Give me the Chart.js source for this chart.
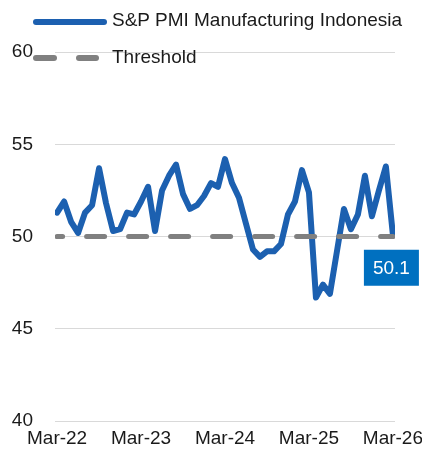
<!DOCTYPE html>
<html>
<head>
<meta charset="utf-8">
<script src="https://cdn.jsdelivr.net/npm/chart.js@4/dist/chart.umd.min.js"></script>
<style>
  html, body { margin: 0; padding: 0; background: #fff; }
  #wrap { position: relative; width: 422px; height: 462px; }
  #c { position: absolute; left: 0; top: 0; }
  .leg { position: absolute; font-family: "Liberation Sans", Arial, sans-serif; font-size: 19px; color: #1a1a1a; white-space: nowrap; line-height: 22px; }
  .sw { position: absolute; height: 6px; border-radius: 3px; }
</style>
</head>
<body>
<div id="wrap">
  <canvas id="c" width="422" height="462"></canvas>
  <div class="sw" style="left:33px; top:19px; width:74px; background:#1c60b0;"></div>
  <div class="leg" style="left:112px; top:9px;">S&amp;P PMI Manufacturing Indonesia</div>
  <div class="sw" style="left:33px; top:55px; width:24px; background:#808080;"></div>
  <div class="sw" style="left:76px; top:55px; width:23px; background:#808080;"></div>
  <div class="leg" style="left:112px; top:46px;">Threshold</div>
</div>
<script>
const months = [
  "Mar-22","Apr-22","May-22","Jun-22","Jul-22","Aug-22","Sep-22","Oct-22","Nov-22","Dec-22",
  "Jan-23","Feb-23","Mar-23","Apr-23","May-23","Jun-23","Jul-23","Aug-23","Sep-23","Oct-23","Nov-23","Dec-23",
  "Jan-24","Feb-24","Mar-24","Apr-24","May-24","Jun-24","Jul-24","Aug-24","Sep-24","Oct-24","Nov-24","Dec-24",
  "Jan-25","Feb-25","Mar-25","Apr-25","May-25","Jun-25","Jul-25","Aug-25","Sep-25","Oct-25","Nov-25","Dec-25",
  "Jan-26","Feb-26","Mar-26"
];
const pmiValues = [
  51.3, 51.9, 50.8, 50.2, 51.3, 51.7, 53.7, 51.8, 50.3, 50.4,
  51.3, 51.2, 51.9, 52.7, 50.3, 52.5, 53.3, 53.9, 52.3, 51.5, 51.7, 52.2,
  52.9, 52.7, 54.2, 52.9, 52.1, 50.7, 49.3, 48.9, 49.2, 49.2, 49.6, 51.2,
  51.9, 53.6, 52.4, 46.7, 47.4, 46.9, 49.2, 51.5, 50.4, 51.2, 53.3, 51.1,
  52.5, 53.8, 50.1
];
const thresholdValue = 50;
const yTicks = [40, 45, 50, 55, 60];
const xTickLabels = ["Mar-22","Mar-23","Mar-24","Mar-25","Mar-26"];

const pmiPoints = pmiValues.map((v, i) => ({ x: i, y: v }));
const thrPoints = months.map((m, i) => ({ x: i, y: thresholdValue }));

const lastLabel = {
  id: 'lastLabel',
  afterDatasetsDraw(chart) {
    const meta = chart.getDatasetMeta(1);
    const pt = meta.data[meta.data.length - 1];
    const ctx = chart.ctx;
    const x = pt.x, y = pt.y;
    ctx.save();
    ctx.fillStyle = '#0070c0';
    ctx.fillRect(x - 29, y + 15, 55, 36);
    ctx.fillStyle = '#ffffff';
    ctx.font = '19px "Liberation Sans", Arial, sans-serif';
    ctx.textAlign = 'center';
    ctx.textBaseline = 'middle';
    ctx.fillText(pmiValues[pmiValues.length - 1].toFixed(1), x - 1.5, y + 34);
    ctx.restore();
  }
};

new Chart(document.getElementById('c'), {
  type: 'line',
  data: {
    datasets: [
      {
        label: 'Threshold',
        data: thrPoints,
        borderColor: '#808080',
        borderWidth: 5,
        borderDash: [18, 24],
        borderDashOffset: 12.5,
        borderCapStyle: 'round',
        pointRadius: 0,
        fill: false,
        order: 0
      },
      {
        label: 'S&P PMI Manufacturing Indonesia',
        data: pmiPoints,
        borderColor: '#1c60b0',
        borderWidth: 6,
        borderJoinStyle: 'round',
        borderCapStyle: 'round',
        pointRadius: 0,
        tension: 0,
        fill: false,
        order: 1
      }
    ]
  },
  options: {
    responsive: false,
    animation: false,
    events: [],
    layout: { padding: { left: 12, right: 27, top: 52, bottom: 6 } },
    plugins: { legend: { display: false }, tooltip: { enabled: false } },
    scales: {
      x: {
        type: 'linear',
        min: -0.3,
        max: 48.3,
        afterBuildTicks(scale) {
          scale.ticks = xTickLabels.map(l => ({ value: months.indexOf(l) }));
        },
        afterFit(scale) {
          scale.paddingLeft = 0;
          scale.paddingRight = 0;
        },
        ticks: {
          autoSkip: false,
          maxRotation: 0,
          padding: 6,
          color: '#1a1a1a',
          font: { family: '"Liberation Sans", Arial, sans-serif', size: 19 },
          callback: (v) => months[v]
        },
        grid: { display: false, drawTicks: false },
        border: { display: false }
      },
      y: {
        min: 40,
        max: 60,
        afterBuildTicks(scale) {
          scale.ticks = yTicks.map(v => ({ value: v }));
        },
        afterFit(scale) {
          scale.width = 43;
        },
        ticks: {
          padding: 22,
          color: '#1a1a1a',
          font: { family: '"Liberation Sans", Arial, sans-serif', size: 19 }
        },
        grid: { color: '#d9d9d9', lineWidth: 1, drawTicks: false },
        border: { display: false }
      }
    }
  },
  plugins: [lastLabel]
});
</script>
</body>
</html>
